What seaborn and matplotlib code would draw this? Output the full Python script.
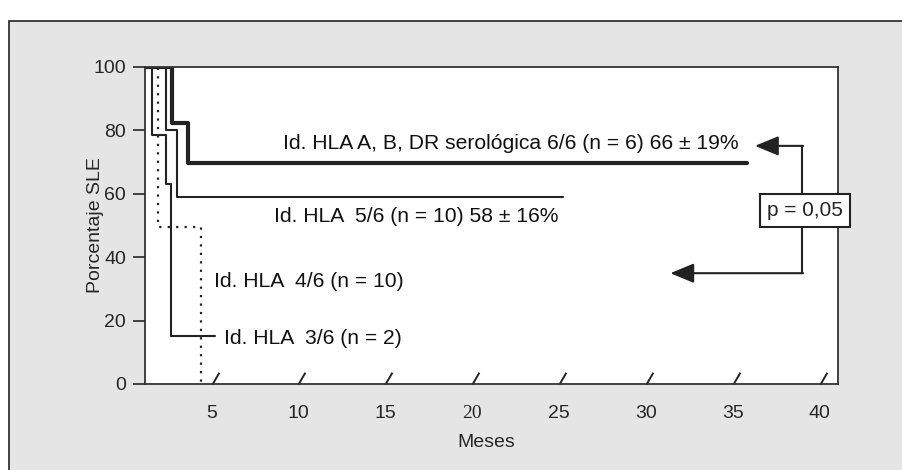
import numpy as np
import pandas as pd
import matplotlib
matplotlib.use("Agg")
import matplotlib.pyplot as plt
import seaborn as sns
from matplotlib.patches import Rectangle

# Disease-free survival (SLE) by HLA identity, step curves

months_66 = [0, 2.71, 3.63, 35.8]
sle_66 = [100, 82.1, 69.5, 69.5]

months_56 = [0, 2.36, 3.01, 25.2]
sle_56 = [100, 80.0, 59.0, 59.0]

months_46 = [0, 1.94, 4.40]
sle_46 = [100, 49.5, 0]

months_36 = [0, 1.56, 2.36, 2.67, 5.2]
sle_36 = [100, 78.4, 62.9, 15.2, 15.2]

group_labels = [
    "Id. HLA A, B, DR serológica 6/6 (n = 6) 66 ± 19%",
    "Id. HLA  5/6 (n = 10) 58 ± 16%",
    "Id. HLA  4/6 (n = 10)",
    "Id. HLA  3/6 (n = 2)",
]
x_ticks = [5, 10, 15, 20, 25, 30, 35, 40]
y_ticks = [0, 20, 40, 60, 80, 100]
p_text = "p = 0,05"

# where things go (data units)
label_pos = [(9.12, 75.7), (8.6, 52.7), (5.16, 32.4), (5.72, 14.4)]
box_pos = (39.15, 54.6)
arrow_x = 39.0
upper_arrow = (36.27, 75.0, 60.1)   # tip x, y, box edge
lower_arrow = (31.4, 34.9, 49.2)

INK = "#222222"

sns.set_style("white")
plt.rcParams["font.family"] = ["Liberation Sans", "DejaVu Sans"]

fig = plt.figure(figsize=(9.03, 4.70), dpi=100)
fig.patch.set_facecolor("white")

# grey panel behind the chart, only left/top border visible
panel = Rectangle((9 / 903, -0.2), 1.2, 0.9553 + 0.2, transform=fig.transFigure,
                  facecolor="#e5e5e5", edgecolor="#333333", linewidth=1.3, zorder=-10)
fig.add_artist(panel)

ax = fig.add_axes([145 / 903, 86 / 470, 693 / 903, 317.5 / 470])
ax.set_facecolor("white")

curves = [
    (months_66, sle_66, dict(linewidth=3.0, linestyle="-")),
    (months_56, sle_56, dict(linewidth=1.5, linestyle="-")),
    (months_46, sle_46, dict(linewidth=1.6, linestyle=(0, (1, 2.8)))),
    (months_36, sle_36, dict(linewidth=1.5, linestyle="-")),
]
for xs, ys, style in curves:
    df = pd.DataFrame({"meses": xs, "sle": ys})
    sns.lineplot(data=df, x="meses", y="sle", ax=ax, color=INK, drawstyle="steps-post",
                 estimator=None, sort=False, legend=False, **style)

for text, (lx, ly) in zip(group_labels, label_pos):
    ax.text(lx, ly, text, ha="left", va="center", fontsize=15.2, color="#111111")

ax.set_xlim(1.17, 41.05)
ax.set_ylim(0, 100)
ax.set_xticks(x_ticks)
ax.set_yticks(y_ticks)
ax.set_xticklabels([str(t) for t in x_ticks], fontsize=14)
ax.set_yticklabels([str(t) for t in y_ticks], fontsize=14)
for lab in ax.get_xticklabels():
    if lab.get_text() == "20":
        lab.set_fontfamily("Liberation Serif")

ax.tick_params(axis="x", length=0, pad=15)
ax.tick_params(axis="y", length=8.6, width=1.3, pad=5, direction="out", left=True, color="#333333")
for sp in ax.spines.values():
    sp.set_visible(True)
    sp.set_color("#333333")
    sp.set_linewidth(1.3)

# little slashes on the x axis at each tick
ax.plot(x_ticks, [0] * len(x_ticks), linestyle="none", marker=[(0, 0), (7, 12)],
        markersize=17, markeredgewidth=1.4, color=INK, clip_on=False)

ax.set_xlabel("Meses", fontsize=14)
ax.set_ylabel("Porcentaje SLE", fontsize=14)
ax.xaxis.set_label_coords(0.492, -0.157)
ax.yaxis.set_label_coords(-0.059, 0.5)

# p-value box with arrows to the two groups compared
ax.text(box_pos[0], box_pos[1], p_text, ha="center", va="center", fontsize=15,
        bbox=dict(boxstyle="square,pad=0.33", facecolor="white", edgecolor=INK, linewidth=1.5),
        zorder=5)
for tip_x, tip_y, edge_y in [upper_arrow, lower_arrow]:
    ax.plot([arrow_x, arrow_x], [edge_y, tip_y], color=INK, linewidth=1.5, solid_capstyle="butt")
    ax.annotate("", xy=(tip_x, tip_y), xytext=(arrow_x + 0.04, tip_y),
                arrowprops=dict(arrowstyle="-|>,head_length=1.45,head_width=0.6",
                                color=INK, linewidth=1.5, shrinkA=0, shrinkB=0))

fig.savefig("out.png", dpi=100)
